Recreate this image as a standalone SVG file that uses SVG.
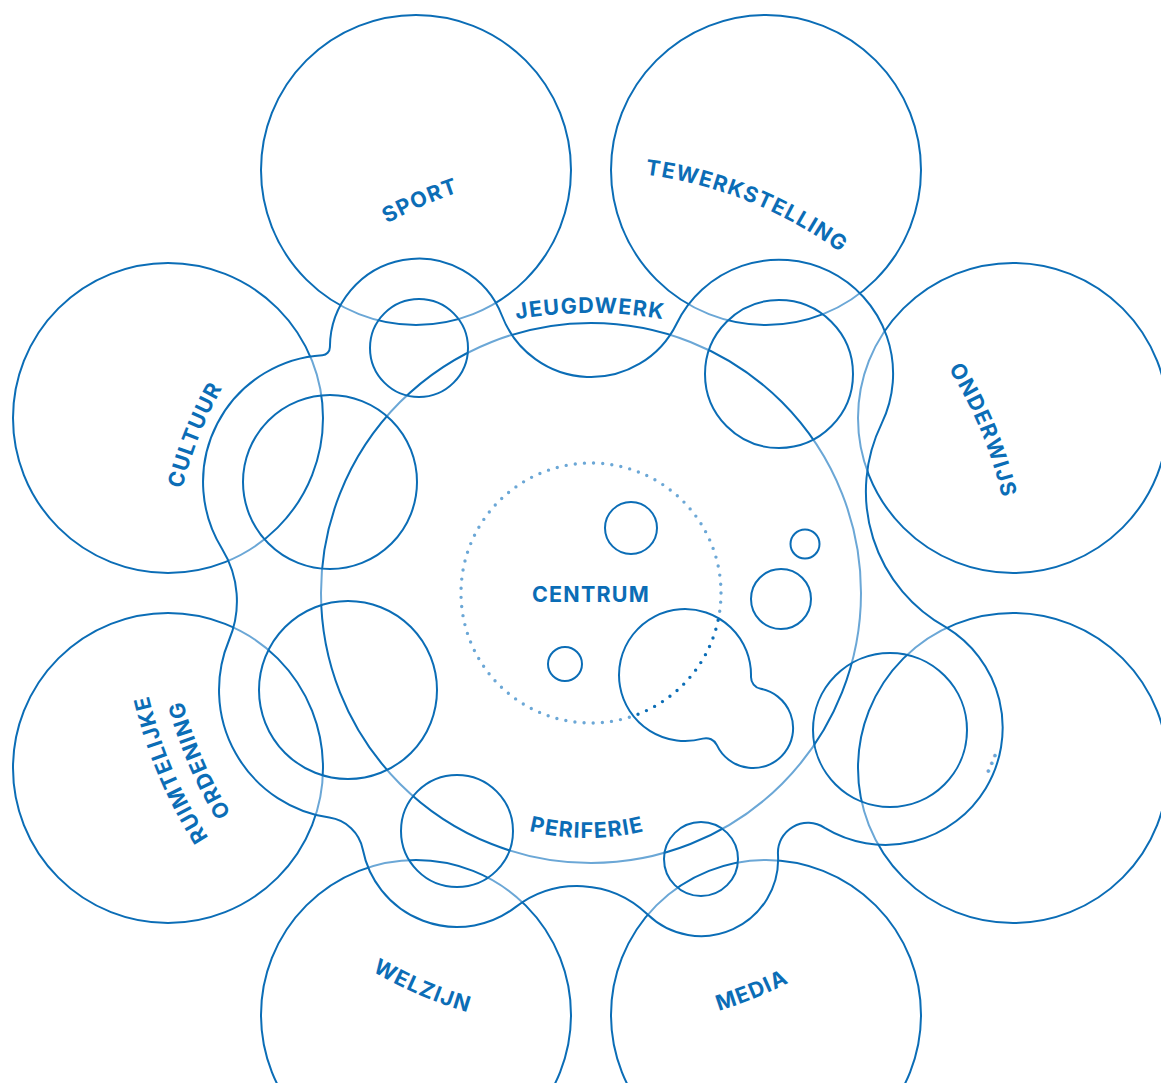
<svg xmlns="http://www.w3.org/2000/svg" width="1161" height="1083" viewBox="0 0 1161 1083">
<style>
.dk{fill:none;stroke:#0b6db6;stroke-width:2}
.lt{fill:none;stroke:#6ba7d6;stroke-width:2}
.lbl{font-family:Inter,"Noto Sans",sans-serif;font-weight:700;font-size:21.5px;letter-spacing:1.2px;fill:#0b6db6}
.ltxt{fill:#6ba7d6}
.dots{stroke-dasharray:0 9.178;stroke-linecap:round;stroke-width:3.4}
</style>
<defs>
<path id="blobShape" d="M 329.9,347.3 A 89 89 0 0 1 502.1,316 A 95.3 95.3 0 0 0 676.6,323.7 A 114 114 0 0 1 881.6,423.6 A 155 155 0 0 0 946.2,627.4 A 117 117 0 1 1 824.7,827.9 A 30 30 0 0 0 778,854.7 A 77 77 0 0 1 647.4,914.3 A 101 101 0 0 0 515.5,907.1 A 96 96 0 0 1 362.8,849.5 A 40 40 0 0 0 329.3,817.6 A 129 129 0 0 1 229.1,640 A 100 100 0 0 0 222,548.7 A 127 127 0 0 1 322.4,355.2 A 8 8 0 0 0 329.9,347.3 Z"/>
<path id="peanutShape" d="M 751,676.7 A 12 12 0 0 0 760.7,688.8 A 40 40 0 1 1 716.9,745.1 A 12 12 0 0 0 702.8,738.6 A 66 66 0 1 1 751,676.7 Z"/>
<g id="holes">
<circle cx="419" cy="348" r="49"/>
<circle cx="779" cy="374" r="74"/>
<circle cx="330" cy="482" r="87"/>
<circle cx="348" cy="690" r="89"/>
<circle cx="457" cy="831" r="56"/>
<circle cx="701" cy="859" r="37"/>
<circle cx="890" cy="730" r="77"/>
<use href="#peanutShape"/>
</g>
<mask id="mIn" maskUnits="userSpaceOnUse" x="0" y="0" width="1161" height="1083">
<use href="#blobShape" fill="#fff"/>
<use href="#holes" fill="#000"/>
</mask>
<mask id="mOut" maskUnits="userSpaceOnUse" x="0" y="0" width="1161" height="1083">
<rect x="0" y="0" width="1161" height="1083" fill="#fff"/>
<use href="#blobShape" fill="#000"/>
<use href="#holes" fill="#fff"/>
</mask>
<path id="tpCW" d="M 1013,593 A 422 422 0 1 1 169,593 A 422 422 0 1 1 1013,593"/>
<path id="tpCW2" d="M 1045,593 A 454 454 0 1 1 137,593 A 454 454 0 1 1 1045,593"/>
<path id="tpCCW" d="M 154,593 A 437 437 0 1 0 1028,593 A 437 437 0 1 0 154,593"/>
<path id="tpJeugd" d="M 160,743 A 430 430 0 0 1 1020,743"/>
<path id="tpPeri" d="M 342,593 A 245 245 0 0 0 832,593"/>
</defs>

<g id="sport">
<circle class="dk" cx="416" cy="170" r="155" mask="url(#mOut)"/>
<circle class="lt" cx="416" cy="170" r="155" mask="url(#mIn)"/>
<text class="lbl" text-anchor="middle"><textPath href="#tpCW" startOffset="1814.8">SPORT</textPath></text>
</g>
<g id="tewerkstelling">
<circle class="dk" cx="766" cy="170" r="155" mask="url(#mOut)"/>
<circle class="lt" cx="766" cy="170" r="155" mask="url(#mIn)"/>
<text class="lbl" text-anchor="middle"><textPath href="#tpCW" startOffset="2149.2">TEWERKSTELLING</textPath></text>
</g>
<g id="onderwijs">
<circle class="dk" cx="1013" cy="418" r="155" mask="url(#mOut)"/>
<circle class="lt" cx="1013" cy="418" r="155" mask="url(#mIn)"/>
<text class="lbl" text-anchor="middle"><textPath href="#tpCW" startOffset="2485">ONDERWIJS</textPath></text>
</g>
<g id="overige">
<circle class="dk" cx="1013" cy="768" r="155" mask="url(#mOut)"/>
<circle class="lt" cx="1013" cy="768" r="155" mask="url(#mIn)"/>
<text class="lbl ltxt" text-anchor="middle"><textPath href="#tpCCW" startOffset="1197.5">...</textPath></text>
</g>
<g id="media">
<circle class="dk" cx="766" cy="1015" r="155" mask="url(#mOut)"/>
<circle class="lt" cx="766" cy="1015" r="155" mask="url(#mIn)"/>
<text class="lbl" text-anchor="middle"><textPath href="#tpCCW" startOffset="854.2">MEDIA</textPath></text>
</g>
<g id="welzijn">
<circle class="dk" cx="416" cy="1015" r="155" mask="url(#mOut)"/>
<circle class="lt" cx="416" cy="1015" r="155" mask="url(#mIn)"/>
<text class="lbl" text-anchor="middle"><textPath href="#tpCCW" startOffset="509.5">WELZIJN</textPath></text>
</g>
<g id="ruimtelijke-ordening">
<circle class="dk" cx="168" cy="768" r="155" mask="url(#mOut)"/>
<circle class="lt" cx="168" cy="768" r="155" mask="url(#mIn)"/>
<text class="lbl" text-anchor="middle"><textPath href="#tpCW2" startOffset="1245.6">RUIMTELIJKE</textPath></text>
<text class="lbl" text-anchor="middle"><textPath href="#tpCW" startOffset="1155.6">ORDENING</textPath></text>
</g>
<g id="cultuur">
<circle class="dk" cx="168" cy="418" r="155" mask="url(#mOut)"/>
<circle class="lt" cx="168" cy="418" r="155" mask="url(#mIn)"/>
<text class="lbl" text-anchor="middle"><textPath href="#tpCW" startOffset="1485.6">CULTUUR</textPath></text>
</g>

<g id="periferie">
<circle class="dk" cx="591" cy="593" r="270" mask="url(#mOut)"/>
<circle class="lt" cx="591" cy="593" r="270" mask="url(#mIn)"/>
<text class="lbl" text-anchor="middle"><textPath href="#tpPeri" startOffset="50%">PERIFERIE</textPath></text>
</g>
<g id="centrum">
<circle class="dk dots" cx="591" cy="593" r="130" mask="url(#mOut)"/>
<circle class="lt dots" cx="591" cy="593" r="130" mask="url(#mIn)"/>
<text class="lbl" x="591" y="601.5" text-anchor="middle">CENTRUM</text>
</g>

<g id="jeugdwerk">
<use href="#blobShape" class="dk"/>
<text class="lbl" text-anchor="middle"><textPath href="#tpJeugd" startOffset="50%">JEUGDWERK</textPath></text>
</g>

<g id="connectors">
<circle class="dk" cx="419" cy="348" r="49"/>
<circle class="dk" cx="779" cy="374" r="74"/>
<circle class="dk" cx="330" cy="482" r="87"/>
<circle class="dk" cx="348" cy="690" r="89"/>
<circle class="dk" cx="457" cy="831" r="56"/>
<circle class="dk" cx="701" cy="859" r="37"/>
<circle class="dk" cx="890" cy="730" r="77"/>
<use href="#peanutShape" class="dk"/>
<circle class="dk" cx="631" cy="528" r="26"/>
<circle class="dk" cx="781" cy="599" r="30"/>
<circle class="dk" cx="805" cy="544" r="14.5"/>
<circle class="dk" cx="565" cy="664" r="17"/>
</g>
</svg>
